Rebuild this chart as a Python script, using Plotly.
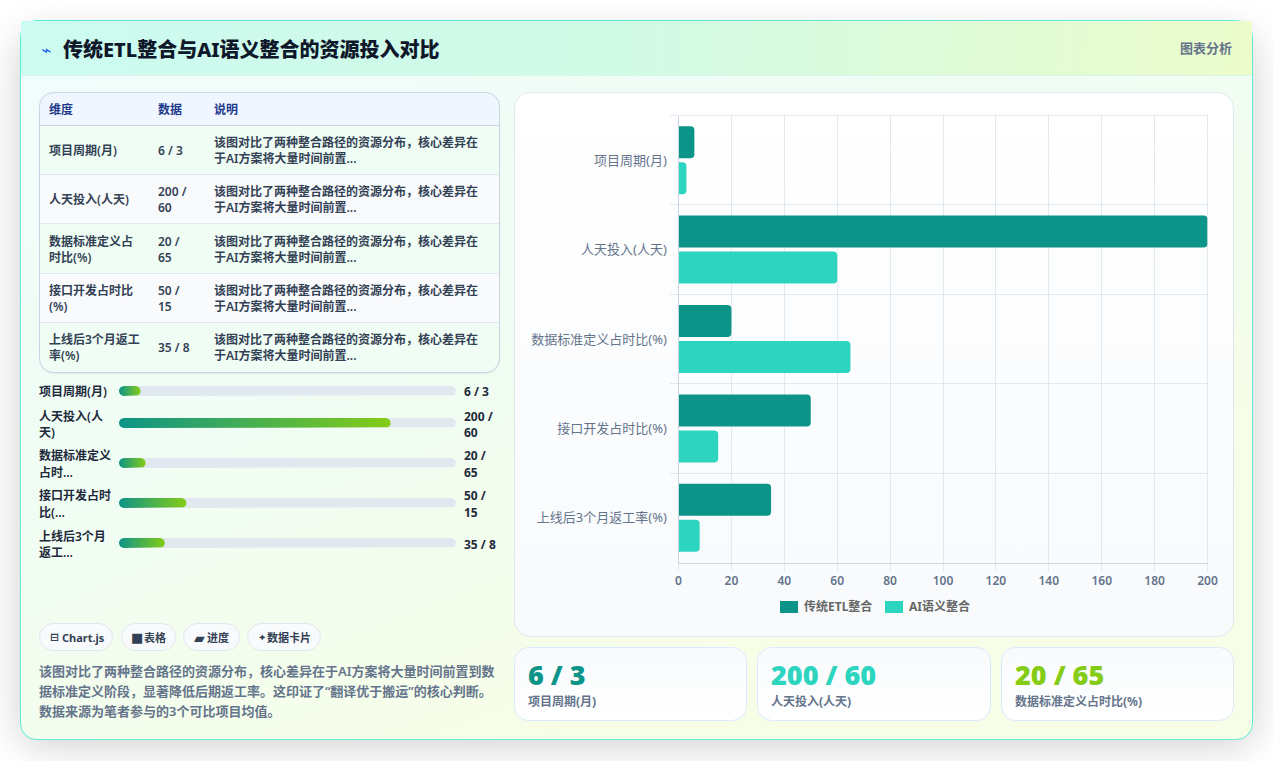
import base64
import math
import plotly.graph_objects as go

W, H = 1273, 761
FONT = "Noto Sans, Noto Sans CJK SC, sans-serif"

# ---- chart data ----
dimensions = ["项目周期(月)", "人天投入(人天)", "数据标准定义占时比(%)", "接口开发占时比(%)", "上线后3个月返工率(%)"]
etl_values = [6, 200, 20, 50, 35]
ai_values = [3, 60, 65, 15, 8]
series_names = ["传统ETL整合", "AI语义整合"]
x_ticks = [0, 20, 40, 60, 80, 100, 120, 140, 160, 180, 200]

# ---- table ----
table_header = ["维度", "数据", "说明"]
table_dims = [["项目周期(月)"], ["人天投入(人天)"], ["数据标准定义占", "时比(%)"], ["接口开发占时比", "(%)"], ["上线后3个月返工", "率(%)"]]
table_data = [["6 / 3"], ["200 /", "60"], ["20 /", "65"], ["50 /", "15"], ["35 / 8"]]
table_note = ["该图对比了两种整合路径的资源分布，核心差异在", "于AI方案将大量时间前置..."]

# ---- progress list ----
progress_labels = [["项目周期(月)"], ["人天投入(人", "天)"], ["数据标准定义", "占时..."], ["接口开发占时", "比(..."], ["上线后3个月", "返工..."]]
progress_values = [["6 / 3"], ["200 /", "60"], ["20 /", "65"], ["50 /", "15"], ["35 / 8"]]
progress_share = [6.4, 80.6, 7.9, 20, 13.6]

# ---- tags, summary, stat cards ----
tag_icons = ["⊟", "■", "▰", "✦"]
tag_icon_sizes = [11, 13, 14, 10]
tag_names = ["Chart.js", "表格", "进度", "数据卡片"]
summary = [
    "该图对比了两种整合路径的资源分布，核心差异在于AI方案将大量时间前置到数",
    "据标准定义阶段，显著降低后期返工率。这印证了“翻译优于搬运”的核心判断。",
    "数据来源为笔者参与的3个可比项目均值。",
]
stat_values = ["6 / 3", "200 / 60", "20 / 65"]
stat_labels = ["项目周期(月)", "人天投入(人天)", "数据标准定义占时比(%)"]

TEAL, AQUA, LIME = "#0d9488", "#2dd4bf", "#84cc16"
stat_colors = [TEAL, AQUA, LIME]
INK, SLATE, GRID = "#334155", "#64748b", "#e2e8f0"


def px(x):
    return x / W


def py(y):
    return 1 - y / H


# Card furniture is painted once as a single SVG backdrop: shadows and gradients
# are the only parts Plotly shapes cannot express.
def rrect(x, y, w, h, r, fill, stroke="none", extra=""):
    return (f'<rect x="{x}" y="{y}" width="{w}" height="{h}" rx="{r}" ry="{r}" '
            f'fill="{fill}" stroke="{stroke}" {extra}/>')


rows_top = [126, 175, 224, 274, 323, 372.5]
svg = [f'<svg xmlns="http://www.w3.org/2000/svg" width="{W}" height="{H}" viewBox="0 0 {W} {H}">',
       '<defs>',
       '<filter id="s" x="-10%" y="-15%" width="120%" height="130%"><feGaussianBlur stdDeviation="20"/></filter>',
       '<filter id="t" x="-5%" y="-5%" width="110%" height="110%"><feGaussianBlur stdDeviation="1"/></filter>',
       '<linearGradient id="body" gradientUnits="userSpaceOnUse" x1="300" y1="0" x2="600" y2="740">'
       '<stop offset="0" stop-color="#f0fdfa"/><stop offset="0.45" stop-color="#f0fdf4"/><stop offset="1" stop-color="#f7fee7"/></linearGradient>',
       '<linearGradient id="head" gradientUnits="userSpaceOnUse" x1="21" y1="0" x2="1252" y2="90">'
       '<stop offset="0" stop-color="#ccfbf1"/><stop offset="0.5" stop-color="#d1fae5"/><stop offset="1" stop-color="#ecfccb"/></linearGradient>',
       '<linearGradient id="panel" x1="0" y1="0" x2="0" y2="1">'
       '<stop offset="0" stop-color="#ffffff"/><stop offset="1" stop-color="#f8fafc"/></linearGradient>',
       '<linearGradient id="stat" x1="0" y1="0" x2="0" y2="1">'
       '<stop offset="0" stop-color="#f8fafc"/><stop offset="1" stop-color="#ffffff"/></linearGradient>',
       '<clipPath id="tbl"><rect x="40" y="93" width="459" height="279.5" rx="14" ry="14"/></clipPath>',
       '</defs>']
svg.append(rrect(21, 36, 1231, 708, 16, "#000", extra='opacity="0.2" filter="url(#s)"'))
svg.append(rrect(20.5, 20.5, 1232, 719, 16, "url(#body)", "#5eead4"))
svg.append(f'<rect x="21" y="21" width="1231" height="55" fill="url(#head)"/>')
svg.append('<path d="M36 20.5H1236" stroke="#5eead4" fill="none"/>')
svg.append(f'<path d="M21 75.5H1252" stroke="#d9f5ea" fill="none"/>')
# table block
svg.append(rrect(40, 94, 459, 279.5, 14, "#94a3b8", extra='opacity="0.28" filter="url(#t)"'))
svg.append('<g clip-path="url(#tbl)">')
svg.append('<rect x="40" y="93" width="459" height="33" fill="#eff6ff"/>')
for i in range(5):
    shade = "#f0fdf4" if i % 2 == 0 else "#f8fafc"
    svg.append(f'<rect x="40" y="{rows_top[i]}" width="459" height="{rows_top[i + 1] - rows_top[i]}" fill="{shade}"/>')
    svg.append(f'<path d="M40 {rows_top[i] - 0.5}H499" stroke="{"#cbd5e1" if i == 0 else "#e2e8f0"}" fill="none"/>')
svg.append('</g>')
svg.append(rrect(39.5, 92.5, 460, 280, 14, "none", "#cbd5e1"))
# chart panel and stat cards
svg.append(rrect(514.5, 92.5, 719, 544, 16, "url(#panel)", "#e2e8f0"))
for x0, x1 in ((514.5, 746.5), (757.5, 990.5), (1001.5, 1233.5)):
    svg.append(rrect(x0, 647.5, x1 - x0, 73, 14, "url(#stat)", "#dbeafe"))
# tag pills
for x0, x1 in ((39.5, 112.5), (121.5, 175.5), (183.5, 239.5), (247.5, 320.5)):
    svg.append(rrect(x0, 623.5, x1 - x0, 27, 13.5, "#f8fafc", "#e2e8f0"))
svg.append('</svg>')
backdrop = "data:image/svg+xml;base64," + base64.b64encode("".join(svg).encode()).decode()


def pill_outline(x0, x1, yc, half_h, px_per_x):
    """Closed outline of a round-ended bar; x in axis units, y in pixel rows."""
    r_x = min(half_h / px_per_x, (x1 - x0) / 2)
    xs, ys = [], []
    for k in range(13):
        a = math.pi / 2 + math.pi * k / 12
        xs.append(x0 + r_x + r_x * math.cos(a))
        ys.append(yc - half_h * math.sin(a))
    for k in range(13):
        a = -math.pi / 2 + math.pi * k / 12
        xs.append(x1 - r_x + r_x * math.cos(a))
        ys.append(yc - half_h * math.sin(a))
    return xs + xs[:1], ys + ys[:1]


fig = go.Figure()

# Grouped horizontal bars
for name, vals, colour in zip(series_names, (etl_values, ai_values), (TEAL, AQUA)):
    fig.add_trace(go.Bar(
        name=name, y=dimensions, x=vals, orientation="h",
        marker=dict(color=colour, line=dict(width=0), cornerradius=4),
        xaxis="x", yaxis="y", showlegend=False,
    ))

# Progress tracks and gradient fills on their own percent axis
TRACK_L, TRACK_R = 119, 456
px_per_pct = (TRACK_R - TRACK_L) / 100
row_centres = [391, 423, 463, 503, 543]
for share, yc in zip(progress_share, row_centres):
    xs, ys = pill_outline(0, 100, yc, 5, px_per_pct)
    fig.add_trace(go.Scatter(x=xs, y=ys, xaxis="x2", yaxis="y2", mode="lines", fill="toself",
                             fillcolor="#e2e8f0", line=dict(width=0), hoverinfo="skip", showlegend=False))
    xs, ys = pill_outline(0, share, yc, 5, px_per_pct)
    fig.add_trace(go.Scatter(x=xs, y=ys, xaxis="x2", yaxis="y2", mode="lines", fill="toself",
                             fillgradient=dict(type="horizontal", colorscale=[[0, TEAL], [1, LIME]]),
                             line=dict(width=0), hoverinfo="skip", showlegend=False))

notes = []


def put(x, y, text, size=12, colour=INK, weight=600, anchor="left", family=FONT):
    notes.append(dict(x=px(x), y=py(y), xref="paper", yref="paper", text=text, showarrow=False,
                      xanchor=anchor, yanchor="middle", align=anchor, borderpad=0, borderwidth=0,
                      font=dict(size=size, color=colour, weight=weight, family=family)))


def put_lines(x, yc, lines, step, **kw):
    top = yc - step * (len(lines) - 1) / 2
    for i, line in enumerate(lines):
        put(x, top + i * step, line, **kw)


# Header
put(41, 50, "⌁", size=17, colour="#2563eb", weight=400, family="DejaVu Sans")
put(63, 49.5, "传统ETL整合与AI语义整合的资源投入对比", size=20, colour="#0f172a", weight=800)
put(1232, 48, "图表分析", size=13, colour=SLATE, weight=600, anchor="right")

# Table
for x, label in zip((48.5, 158, 214), table_header):
    put(x, 109.5, label, colour="#1e3a8a", weight=700)
for i in range(5):
    yc = (rows_top[i] + rows_top[i + 1]) / 2
    put_lines(48.5, yc, table_dims[i], 16)
    put_lines(158, yc, table_data[i], 16)
    put_lines(214, yc, table_note, 16)

# Progress rows
for i, yc in enumerate(row_centres):
    text_yc = yc + 1 if i > 0 else yc
    put_lines(39, text_yc, progress_labels[i], 16, colour="#1e293b")
    put_lines(464, text_yc, progress_values[i], 16, colour="#1e293b", weight=700)

# Tags
for x, icon_x, icon, icon_size, tag in zip((62, 144, 207, 267), (49.5, 130.5, 193.5, 258),
                                           tag_icons, tag_icon_sizes, tag_names):
    put(icon_x, 637.5, icon, size=icon_size, colour=INK, weight=700, family="DejaVu Sans")
    put(x, 637.5, tag, size=11, colour=INK, weight=700)

# Summary paragraph
for y, line in zip((671, 691, 711), summary):
    put(39, y, line, size=13, colour=SLATE, weight=600)

# Stat cards
for x, val, lab, colour in zip((528, 771, 1015), stat_values, stat_labels, stat_colors):
    put(x, 674, val, size=27, colour=colour, weight=800, family="Open Sans, " + FONT)
    put(x, 701, lab, size=12, colour=SLATE, weight=700)

# Legend key and the plot frame's top and right edges, which sit on band limits
key_shapes = [
    dict(type="line", xref="x domain", yref="y domain", x0=0, x1=1, y0=1, y1=1,
         line=dict(color=GRID, width=1), layer="below"),
    dict(type="line", xref="x domain", yref="y domain", x0=1, x1=1, y0=0, y1=1,
         line=dict(color=GRID, width=1), layer="below"),
]
for x0, x1, colour, tx, name in ((780, 798, TEAL, 804, series_names[0]), (885, 903, AQUA, 909, series_names[1])):
    key_shapes.append(dict(type="rect", xref="paper", yref="paper", x0=px(x0), x1=px(x1),
                           y0=py(613), y1=py(601), fillcolor=colour, line=dict(width=0)))
    put(tx, 606.5, name, size=12, colour="#666666", weight=700)

fig.update_layout(
    width=W, height=H, autosize=False,
    margin=dict(l=0, r=0, t=0, b=0, pad=0, autoexpand=False),
    paper_bgcolor="#ffffff", plot_bgcolor="rgba(0,0,0,0)",
    font=dict(family=FONT),
    barmode="group", bargap=0.195, bargroupgap=0.11,
    xaxis=dict(domain=[px(678.5), px(1207.5)], range=[0, 200], anchor="y", tickmode="array", automargin=False,
               tickvals=x_ticks, ticks="outside", ticklen=7, tickcolor=GRID, showgrid=True,
               gridcolor=GRID, gridwidth=1, zeroline=False, showline=True, linecolor="#cbd5e1", linewidth=1,
               tickfont=dict(size=12, color=SLATE, weight=600)),
    yaxis=dict(domain=[py(562.5), py(115.5)], autorange="reversed", anchor="x", type="category", automargin=False,
               categoryorder="array", categoryarray=dimensions, tickson="boundaries", ticks="outside",
               ticklen=8, tickcolor=GRID, showgrid=True, gridcolor=GRID, gridwidth=1, zeroline=False,
               showline=True, linecolor="#cbd5e1", linewidth=1, ticklabelstandoff=8,
               tickfont=dict(size=13, color=SLATE)),
    xaxis2=dict(domain=[px(TRACK_L), px(TRACK_R)], range=[0, 100], anchor="y2", visible=False, fixedrange=True,
                automargin=False),
    yaxis2=dict(domain=[0, 1], range=[H, 0], anchor="x2", visible=False, fixedrange=True, automargin=False),
    images=[dict(source=backdrop, xref="paper", yref="paper", x=0, y=1, sizex=1, sizey=1,
                 xanchor="left", yanchor="top", sizing="stretch", layer="below")],
    shapes=key_shapes,
    annotations=notes,
)

fig.write_html("out.html", config=dict(displayModeBar=False))
